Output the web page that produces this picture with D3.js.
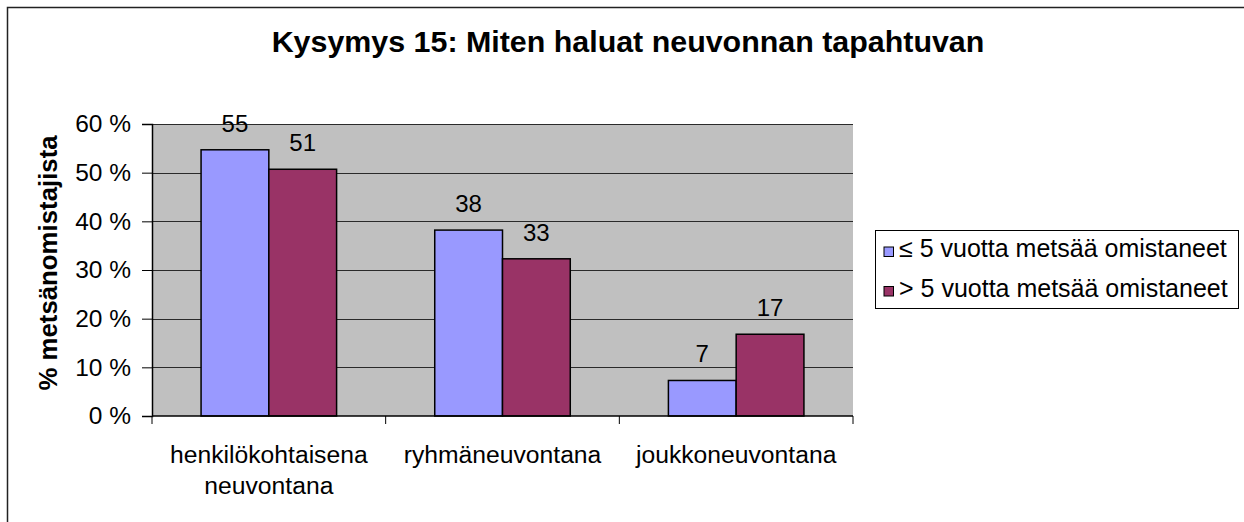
<!DOCTYPE html>
<html>
<head>
<meta charset="utf-8">
<script src="https://cdn.jsdelivr.net/npm/d3@7"></script>
<style>
  html, body { margin: 0; padding: 0; background: #fff; }
  svg { display: block; font-family: "Liberation Sans", Arial, sans-serif; }
</style>
</head>
<body>
<svg id="chart" width="1244" height="522"></svg>
<script>
const title = "Kysymys 15: Miten haluat neuvonnan tapahtuvan";
const yTitle = "% metsänomistajista";
const categories = ["henkilökohtaisena neuvontana", "ryhmäneuvontana", "joukkoneuvontana"];
const categoryLines = [["henkilökohtaisena", "neuvontana"], ["ryhmäneuvontana"], ["joukkoneuvontana"]];
const seriesNames = ["≤ 5 vuotta metsää omistaneet", "> 5 vuotta metsää omistaneet"];
const seriesShort = [54.7, 38.2, 7.3];   // ≤ 5 vuotta
const seriesLong = [50.7, 32.3, 16.8];   // > 5 vuotta
const seriesLabels = [[55, 38, 7], [51, 33, 17]];
const yTicks = [0, 10, 20, 30, 40, 50, 60];
const colors = ["#9999FF", "#993366"];

const svg = d3.select("#chart");
const W = 1244, H = 522;
const plot = { left: 152, right: 853, top: 124, bottom: 416 };

// outer frame
svg.append("rect").attr("x", 7.5).attr("y", 7.5).attr("width", W + 20).attr("height", H + 20)
  .attr("fill", "#fff").attr("stroke", "#222").attr("stroke-width", 1.5);

const x0 = d3.scaleBand().domain(categories).range([plot.left, plot.right]).padding(0);
const bw = x0.bandwidth();
const gap = bw * 0.21;
const x1 = d3.scaleBand().domain([0, 1]).range([gap, bw - gap]).padding(0);
const y = d3.scaleLinear().domain([0, 60]).range([plot.bottom, plot.top]);

// plot background
svg.append("rect").attr("x", plot.left).attr("y", plot.top)
  .attr("width", plot.right - plot.left).attr("height", plot.bottom - plot.top)
  .attr("fill", "#C0C0C0");

// gridlines
svg.append("g").selectAll("line").data(yTicks.filter(d => d > 0)).join("line")
  .attr("x1", plot.left).attr("x2", plot.right)
  .attr("y1", d => Math.round(y(d)) + 0.5).attr("y2", d => Math.round(y(d)) + 0.5)
  .attr("stroke", "#2a2a2a").attr("stroke-width", 1);

// y axis
const yAxis = d3.axisLeft(y).tickValues(yTicks).tickSize(10).tickPadding(11)
  .tickFormat(d => d + " %");
const gy = svg.append("g").attr("transform", `translate(${plot.left},0)`).call(yAxis);
gy.select(".domain").attr("stroke", "#000").attr("stroke-width", 1.5);
gy.selectAll(".tick line").attr("stroke", "#000");
gy.selectAll(".tick text").attr("font-size", 24.5).attr("fill", "#000")
  .attr("font-family", "Liberation Sans, Arial, sans-serif");

// bars
const data = [seriesShort, seriesLong];
const groups = svg.append("g").selectAll("g").data(categories).join("g")
  .attr("transform", d => `translate(${x0(d)},0)`);
groups.selectAll("rect").data((c, i) => data.map((s, si) => ({ si, v: s[i], lab: seriesLabels[si][i] })))
  .join("rect")
  .attr("x", d => x1(d.si)).attr("width", x1.bandwidth())
  .attr("y", d => y(d.v)).attr("height", d => y(0) - y(d.v))
  .attr("fill", d => colors[d.si]).attr("stroke", "#000").attr("stroke-width", 1.5);
groups.selectAll("text.lab").data((c, i) => data.map((s, si) => ({ si, v: s[i], lab: seriesLabels[si][i] })))
  .join("text").attr("class", "lab")
  .attr("x", d => x1(d.si) + x1.bandwidth() / 2)
  .attr("y", d => y(d.v) - 18)
  .attr("text-anchor", "middle").attr("font-size", 24).attr("fill", "#000")
  .text(d => d.lab);

// x axis line and boundary ticks
svg.append("line").attr("x1", plot.left).attr("x2", plot.right)
  .attr("y1", plot.bottom).attr("y2", plot.bottom).attr("stroke", "#000").attr("stroke-width", 1.5);
const bounds = categories.map(c => x0(c)).concat([x0.range()[1]]);
svg.append("g").selectAll("line").data(bounds).join("line")
  .attr("x1", d => d).attr("x2", d => d)
  .attr("y1", plot.bottom).attr("y2", plot.bottom + 8)
  .attr("stroke", "#000").attr("stroke-width", 1);

// category labels
const cl = svg.append("g").selectAll("text").data(categories).join("text")
  .attr("text-anchor", "middle").attr("font-size", 24.7).attr("fill", "#000")
  .attr("transform", d => `translate(${x0(d) + bw / 2},463)`);
cl.selectAll("tspan").data((d, i) => categoryLines[i]).join("tspan")
  .attr("x", 0).attr("y", (d, j) => j * 30.6).text(d => d);

// title
svg.append("text").attr("x", 628).attr("y", 52).attr("text-anchor", "middle")
  .attr("font-size", 30.4).attr("font-weight", "bold").attr("fill", "#000").text(title);

// y title
svg.append("text").attr("transform", "translate(57,263) rotate(-90)")
  .attr("text-anchor", "middle").attr("font-size", 25.8).attr("font-weight", "bold")
  .attr("fill", "#000").text(yTitle);

// legend
const lg = svg.append("g");
lg.append("rect").attr("x", 875.5).attr("y", 230.5).attr("width", 363).attr("height", 78)
  .attr("fill", "#fff").attr("stroke", "#000").attr("stroke-width", 1);
const items = lg.selectAll("g").data(seriesNames).join("g")
  .attr("transform", (d, i) => `translate(0,${i * 39.5})`);
items.append("rect").attr("x", 884).attr("y", 247).attr("width", 9.5).attr("height", 9.5)
  .attr("fill", (d, i) => colors[i]).attr("stroke", "#000").attr("stroke-width", 1);
items.append("text").attr("x", 899).attr("y", 257).attr("font-size", 25).attr("fill", "#000")
  .text(d => d);
</script>
</body>
</html>
